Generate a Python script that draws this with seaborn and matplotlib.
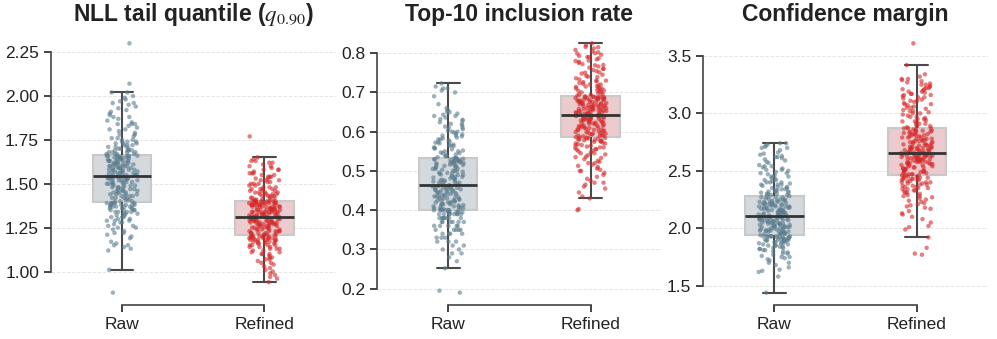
import matplotlib
matplotlib.use("Agg")
import matplotlib.pyplot as plt
import seaborn as sns
import numpy as np
import pandas as pd

groups = ["Raw", "Refined"]
titles = ["NLL tail quantile ($q_{0.90}$)", "Top-10 inclusion rate", "Confidence margin"]

nll_raw = [
    0.88, 1.01, 1.12, 1.13, 1.14, 1.15, 1.15, 1.17, 1.19, 1.20,
    1.21, 1.22, 1.23, 1.24, 1.25, 1.25, 1.26, 1.27, 1.28, 1.28,
    1.29, 1.29, 1.30, 1.30, 1.31, 1.31, 1.32, 1.32, 1.33, 1.33,
    1.34, 1.34, 1.34, 1.35, 1.35, 1.35, 1.36, 1.36, 1.36, 1.37,
    1.37, 1.37, 1.38, 1.38, 1.38, 1.38, 1.39, 1.39, 1.39, 1.39,
    1.40, 1.40, 1.41, 1.41, 1.42, 1.42, 1.42, 1.43, 1.43, 1.43,
    1.44, 1.44, 1.44, 1.45, 1.45, 1.45, 1.46, 1.46, 1.46, 1.47,
    1.47, 1.47, 1.48, 1.48, 1.48, 1.49, 1.49, 1.49, 1.50, 1.50,
    1.50, 1.50, 1.51, 1.51, 1.51, 1.52, 1.52, 1.52, 1.52, 1.53,
    1.53, 1.53, 1.53, 1.54, 1.54, 1.54, 1.54, 1.54, 1.54, 1.54,
    1.55, 1.55, 1.55, 1.55, 1.56, 1.56, 1.56, 1.56, 1.57, 1.57,
    1.57, 1.57, 1.58, 1.58, 1.58, 1.58, 1.59, 1.59, 1.59, 1.59,
    1.60, 1.60, 1.60, 1.60, 1.61, 1.61, 1.61, 1.61, 1.62, 1.62,
    1.62, 1.62, 1.63, 1.63, 1.63, 1.63, 1.64, 1.64, 1.64, 1.64,
    1.65, 1.65, 1.65, 1.65, 1.65, 1.66, 1.66, 1.66, 1.66, 1.66,
    1.67, 1.67, 1.67, 1.68, 1.68, 1.68, 1.69, 1.69, 1.69, 1.70,
    1.70, 1.71, 1.71, 1.72, 1.72, 1.73, 1.73, 1.74, 1.74, 1.75,
    1.75, 1.76, 1.77, 1.78, 1.79, 1.80, 1.81, 1.82, 1.83, 1.84,
    1.84, 1.85, 1.86, 1.87, 1.88, 1.89, 1.90, 1.91, 1.92, 1.94,
    1.95, 1.96, 1.97, 1.98, 1.99, 2.00, 2.02, 2.02, 2.07, 2.30,
    1.16, 1.22, 1.26, 1.29, 1.31, 1.33, 1.34, 1.35, 1.36, 1.37,
    1.37, 1.38, 1.38, 1.39, 1.39, 1.40, 1.41, 1.43, 1.44, 1.45,
    1.46, 1.47, 1.48, 1.49, 1.50, 1.51, 1.52, 1.53, 1.53, 1.54,
    1.55, 1.56, 1.57, 1.58, 1.59, 1.60, 1.60, 1.61, 1.62, 1.63,
    1.63, 1.64, 1.65, 1.65, 1.66, 1.67, 1.68, 1.69, 1.70, 1.71,
    1.72, 1.73, 1.74, 1.76, 1.78, 1.81, 1.84, 1.88, 1.93, 1.96,
]
nll_refined = [
    0.94, 0.96, 0.97, 0.98, 0.99, 1.00, 1.01, 1.03, 1.04, 1.05,
    1.05, 1.06, 1.07, 1.08, 1.08, 1.09, 1.10, 1.10, 1.11, 1.11,
    1.12, 1.12, 1.13, 1.13, 1.14, 1.14, 1.14, 1.15, 1.15, 1.15,
    1.16, 1.16, 1.16, 1.17, 1.17, 1.17, 1.17, 1.18, 1.18, 1.18,
    1.18, 1.19, 1.19, 1.19, 1.19, 1.19, 1.20, 1.20, 1.20, 1.20,
    1.21, 1.21, 1.21, 1.21, 1.22, 1.22, 1.22, 1.22, 1.23, 1.23,
    1.23, 1.23, 1.24, 1.24, 1.24, 1.24, 1.25, 1.25, 1.25, 1.25,
    1.26, 1.26, 1.26, 1.26, 1.27, 1.27, 1.27, 1.27, 1.28, 1.28,
    1.28, 1.28, 1.28, 1.29, 1.29, 1.29, 1.29, 1.29, 1.30, 1.30,
    1.30, 1.30, 1.30, 1.30, 1.31, 1.31, 1.31, 1.31, 1.31, 1.31,
    1.31, 1.32, 1.32, 1.32, 1.32, 1.32, 1.33, 1.33, 1.33, 1.33,
    1.33, 1.34, 1.34, 1.34, 1.34, 1.34, 1.35, 1.35, 1.35, 1.35,
    1.35, 1.36, 1.36, 1.36, 1.36, 1.36, 1.37, 1.37, 1.37, 1.37,
    1.37, 1.38, 1.38, 1.38, 1.38, 1.38, 1.39, 1.39, 1.39, 1.39,
    1.39, 1.39, 1.40, 1.40, 1.40, 1.40, 1.40, 1.40, 1.40, 1.40,
    1.41, 1.41, 1.41, 1.42, 1.42, 1.42, 1.43, 1.43, 1.43, 1.44,
    1.44, 1.44, 1.45, 1.45, 1.45, 1.46, 1.46, 1.47, 1.47, 1.47,
    1.48, 1.48, 1.49, 1.49, 1.50, 1.50, 1.51, 1.51, 1.52, 1.52,
    1.53, 1.53, 1.54, 1.54, 1.55, 1.55, 1.56, 1.56, 1.57, 1.58,
    1.58, 1.59, 1.60, 1.61, 1.62, 1.63, 1.63, 1.64, 1.65, 1.77,
    1.02, 1.07, 1.10, 1.13, 1.15, 1.16, 1.17, 1.18, 1.18, 1.19,
    1.19, 1.20, 1.20, 1.20, 1.20, 1.21, 1.22, 1.23, 1.24, 1.25,
    1.26, 1.27, 1.27, 1.28, 1.28, 1.29, 1.29, 1.30, 1.30, 1.31,
    1.32, 1.32, 1.33, 1.34, 1.34, 1.35, 1.35, 1.36, 1.37, 1.37,
    1.38, 1.38, 1.39, 1.39, 1.40, 1.41, 1.42, 1.43, 1.44, 1.45,
    1.46, 1.47, 1.48, 1.50, 1.52, 1.54, 1.56, 1.58, 1.60, 1.62,
]
top10_raw = [
    0.190, 0.195, 0.252, 0.270, 0.280, 0.290, 0.300, 0.300, 0.310, 0.310,
    0.320, 0.320, 0.330, 0.330, 0.330, 0.340, 0.340, 0.340, 0.350, 0.350,
    0.350, 0.350, 0.360, 0.360, 0.360, 0.360, 0.370, 0.370, 0.370, 0.370,
    0.370, 0.380, 0.380, 0.380, 0.380, 0.380, 0.380, 0.390, 0.390, 0.390,
    0.390, 0.390, 0.390, 0.395, 0.395, 0.395, 0.400, 0.400, 0.400, 0.400,
    0.400, 0.403, 0.405, 0.405, 0.407, 0.408, 0.410, 0.410, 0.412, 0.413,
    0.415, 0.415, 0.417, 0.418, 0.420, 0.420, 0.422, 0.423, 0.425, 0.425,
    0.427, 0.428, 0.430, 0.430, 0.432, 0.433, 0.435, 0.435, 0.437, 0.438,
    0.440, 0.440, 0.442, 0.443, 0.445, 0.445, 0.447, 0.448, 0.450, 0.450,
    0.452, 0.453, 0.455, 0.455, 0.457, 0.458, 0.460, 0.460, 0.462, 0.464,
    0.466, 0.468, 0.470, 0.470, 0.472, 0.473, 0.475, 0.476, 0.478, 0.480,
    0.481, 0.483, 0.485, 0.486, 0.488, 0.490, 0.491, 0.493, 0.495, 0.496,
    0.498, 0.500, 0.501, 0.503, 0.505, 0.506, 0.508, 0.510, 0.511, 0.513,
    0.515, 0.516, 0.517, 0.518, 0.519, 0.520, 0.521, 0.522, 0.523, 0.524,
    0.525, 0.526, 0.527, 0.528, 0.529, 0.530, 0.531, 0.532, 0.533, 0.533,
    0.535, 0.537, 0.540, 0.542, 0.545, 0.547, 0.550, 0.552, 0.555, 0.557,
    0.560, 0.563, 0.565, 0.567, 0.570, 0.573, 0.575, 0.578, 0.580, 0.583,
    0.585, 0.588, 0.590, 0.593, 0.595, 0.598, 0.600, 0.603, 0.606, 0.610,
    0.613, 0.616, 0.620, 0.624, 0.628, 0.632, 0.636, 0.640, 0.643, 0.646,
    0.650, 0.655, 0.660, 0.670, 0.690, 0.700, 0.705, 0.710, 0.715, 0.723,
    0.290, 0.320, 0.340, 0.350, 0.360, 0.370, 0.380, 0.380, 0.390, 0.390,
    0.395, 0.395, 0.400, 0.400, 0.400, 0.405, 0.410, 0.415, 0.420, 0.425,
    0.430, 0.435, 0.440, 0.445, 0.450, 0.452, 0.455, 0.458, 0.460, 0.463,
    0.470, 0.475, 0.480, 0.485, 0.490, 0.495, 0.500, 0.505, 0.510, 0.515,
    0.520, 0.522, 0.525, 0.528, 0.531, 0.538, 0.545, 0.550, 0.558, 0.565,
    0.572, 0.580, 0.590, 0.600, 0.610, 0.620, 0.630, 0.640, 0.650, 0.710,
]
top10_refined = [
    0.400, 0.403, 0.430, 0.435, 0.445, 0.455, 0.460, 0.465, 0.470, 0.475,
    0.480, 0.485, 0.490, 0.495, 0.500, 0.503, 0.506, 0.510, 0.513, 0.516,
    0.520, 0.523, 0.526, 0.530, 0.533, 0.536, 0.540, 0.542, 0.545, 0.547,
    0.550, 0.552, 0.554, 0.556, 0.558, 0.560, 0.562, 0.564, 0.566, 0.568,
    0.570, 0.572, 0.574, 0.576, 0.578, 0.579, 0.580, 0.582, 0.583, 0.585,
    0.586, 0.588, 0.589, 0.590, 0.591, 0.593, 0.594, 0.595, 0.596, 0.598,
    0.599, 0.600, 0.601, 0.603, 0.604, 0.605, 0.606, 0.608, 0.609, 0.610,
    0.611, 0.613, 0.614, 0.615, 0.616, 0.618, 0.619, 0.620, 0.621, 0.623,
    0.624, 0.625, 0.626, 0.628, 0.629, 0.630, 0.631, 0.632, 0.633, 0.634,
    0.635, 0.636, 0.637, 0.638, 0.639, 0.640, 0.641, 0.641, 0.642, 0.643,
    0.644, 0.645, 0.646, 0.647, 0.648, 0.649, 0.650, 0.651, 0.652, 0.653,
    0.654, 0.655, 0.656, 0.657, 0.658, 0.659, 0.660, 0.661, 0.662, 0.663,
    0.664, 0.665, 0.666, 0.667, 0.668, 0.669, 0.670, 0.671, 0.672, 0.673,
    0.674, 0.675, 0.676, 0.677, 0.678, 0.679, 0.680, 0.681, 0.682, 0.683,
    0.684, 0.685, 0.686, 0.686, 0.687, 0.688, 0.688, 0.689, 0.689, 0.690,
    0.692, 0.694, 0.696, 0.698, 0.700, 0.702, 0.704, 0.706, 0.708, 0.710,
    0.712, 0.714, 0.716, 0.718, 0.720, 0.722, 0.724, 0.726, 0.728, 0.730,
    0.733, 0.736, 0.739, 0.742, 0.745, 0.748, 0.751, 0.754, 0.757, 0.760,
    0.763, 0.766, 0.769, 0.772, 0.775, 0.778, 0.781, 0.784, 0.787, 0.790,
    0.793, 0.796, 0.799, 0.802, 0.805, 0.808, 0.812, 0.816, 0.820, 0.825,
    0.470, 0.500, 0.520, 0.535, 0.545, 0.555, 0.560, 0.565, 0.570, 0.575,
    0.578, 0.580, 0.582, 0.584, 0.585, 0.590, 0.595, 0.600, 0.605, 0.610,
    0.615, 0.620, 0.625, 0.628, 0.631, 0.634, 0.637, 0.639, 0.641, 0.643,
    0.646, 0.649, 0.652, 0.655, 0.658, 0.661, 0.664, 0.667, 0.670, 0.673,
    0.676, 0.679, 0.682, 0.685, 0.689, 0.695, 0.700, 0.705, 0.710, 0.715,
    0.720, 0.730, 0.740, 0.750, 0.760, 0.770, 0.780, 0.790, 0.800, 0.815,
]
margin_raw = [
    1.44, 1.58, 1.62, 1.64, 1.66, 1.68, 1.70, 1.72, 1.73, 1.74,
    1.75, 1.76, 1.77, 1.78, 1.79, 1.80, 1.80, 1.81, 1.82, 1.82,
    1.83, 1.84, 1.84, 1.85, 1.85, 1.86, 1.86, 1.87, 1.87, 1.88,
    1.88, 1.89, 1.89, 1.89, 1.90, 1.90, 1.90, 1.91, 1.91, 1.91,
    1.92, 1.92, 1.92, 1.93, 1.93, 1.93, 1.93, 1.93, 1.93, 1.93,
    1.94, 1.95, 1.95, 1.96, 1.96, 1.96, 1.97, 1.97, 1.97, 1.98,
    1.98, 1.98, 1.99, 1.99, 1.99, 2.00, 2.00, 2.00, 2.01, 2.01,
    2.01, 2.02, 2.02, 2.02, 2.03, 2.03, 2.03, 2.04, 2.04, 2.04,
    2.05, 2.05, 2.05, 2.06, 2.06, 2.06, 2.07, 2.07, 2.07, 2.08,
    2.08, 2.08, 2.08, 2.09, 2.09, 2.09, 2.09, 2.10, 2.10, 2.10,
    2.11, 2.11, 2.11, 2.12, 2.12, 2.12, 2.13, 2.13, 2.13, 2.14,
    2.14, 2.14, 2.15, 2.15, 2.15, 2.16, 2.16, 2.16, 2.17, 2.17,
    2.17, 2.18, 2.18, 2.18, 2.19, 2.19, 2.19, 2.20, 2.20, 2.20,
    2.21, 2.21, 2.21, 2.22, 2.22, 2.22, 2.23, 2.23, 2.23, 2.24,
    2.24, 2.24, 2.25, 2.25, 2.26, 2.26, 2.27, 2.27, 2.28, 2.28,
    2.29, 2.29, 2.30, 2.30, 2.31, 2.31, 2.32, 2.32, 2.33, 2.33,
    2.34, 2.35, 2.35, 2.36, 2.37, 2.38, 2.38, 2.39, 2.40, 2.40,
    2.41, 2.42, 2.43, 2.44, 2.45, 2.46, 2.47, 2.48, 2.49, 2.50,
    2.51, 2.52, 2.53, 2.54, 2.55, 2.57, 2.59, 2.60, 2.61, 2.62,
    2.63, 2.64, 2.66, 2.68, 2.70, 2.71, 2.72, 2.73, 2.74, 2.74,
    1.63, 1.70, 1.75, 1.78, 1.81, 1.83, 1.85, 1.87, 1.88, 1.89,
    1.90, 1.91, 1.92, 1.93, 1.93, 1.95, 1.96, 1.97, 1.98, 1.99,
    2.00, 2.01, 2.02, 2.03, 2.04, 2.05, 2.06, 2.07, 2.08, 2.09,
    2.11, 2.12, 2.13, 2.14, 2.15, 2.16, 2.17, 2.18, 2.19, 2.20,
    2.21, 2.22, 2.23, 2.25, 2.27, 2.30, 2.32, 2.34, 2.36, 2.38,
    2.40, 2.42, 2.45, 2.48, 2.51, 2.54, 2.58, 2.62, 2.65, 2.70,
]
margin_refined = [
    1.77, 1.78, 1.83, 1.92, 1.99, 2.01, 2.05, 2.08, 2.10, 2.13,
    2.15, 2.17, 2.18, 2.20, 2.21, 2.22, 2.24, 2.25, 2.26, 2.27,
    2.28, 2.29, 2.30, 2.31, 2.32, 2.33, 2.33, 2.34, 2.35, 2.35,
    2.36, 2.37, 2.37, 2.38, 2.39, 2.39, 2.40, 2.40, 2.41, 2.41,
    2.42, 2.42, 2.43, 2.43, 2.44, 2.44, 2.45, 2.45, 2.46, 2.46,
    2.47, 2.47, 2.48, 2.48, 2.49, 2.49, 2.50, 2.50, 2.51, 2.51,
    2.52, 2.52, 2.53, 2.53, 2.54, 2.54, 2.55, 2.55, 2.56, 2.56,
    2.57, 2.57, 2.57, 2.58, 2.58, 2.58, 2.59, 2.59, 2.59, 2.60,
    2.60, 2.60, 2.61, 2.61, 2.61, 2.62, 2.62, 2.62, 2.63, 2.63,
    2.63, 2.63, 2.64, 2.64, 2.64, 2.64, 2.65, 2.65, 2.65, 2.65,
    2.66, 2.66, 2.66, 2.67, 2.67, 2.67, 2.68, 2.68, 2.68, 2.69,
    2.69, 2.69, 2.70, 2.70, 2.70, 2.71, 2.71, 2.71, 2.72, 2.72,
    2.73, 2.73, 2.74, 2.74, 2.75, 2.75, 2.76, 2.76, 2.77, 2.77,
    2.78, 2.78, 2.79, 2.79, 2.80, 2.80, 2.81, 2.81, 2.82, 2.82,
    2.83, 2.83, 2.84, 2.84, 2.85, 2.85, 2.86, 2.86, 2.87, 2.87,
    2.88, 2.89, 2.90, 2.91, 2.92, 2.93, 2.94, 2.95, 2.96, 2.97,
    2.98, 2.99, 3.00, 3.01, 3.02, 3.03, 3.04, 3.05, 3.06, 3.07,
    3.08, 3.09, 3.10, 3.11, 3.12, 3.14, 3.15, 3.16, 3.17, 3.18,
    3.19, 3.20, 3.21, 3.22, 3.23, 3.24, 3.26, 3.28, 3.30, 3.32,
    3.13, 3.16, 3.19, 3.22, 3.25, 3.27, 3.29, 3.34, 3.42, 3.61,
    2.02, 2.12, 2.19, 2.23, 2.28, 2.31, 2.34, 2.36, 2.38, 2.40,
    2.42, 2.43, 2.44, 2.45, 2.46, 2.47, 2.49, 2.50, 2.52, 2.53,
    2.55, 2.56, 2.57, 2.58, 2.59, 2.60, 2.61, 2.62, 2.63, 2.64,
    2.66, 2.67, 2.69, 2.70, 2.72, 2.73, 2.75, 2.76, 2.78, 2.79,
    2.81, 2.82, 2.84, 2.85, 2.87, 2.89, 2.91, 2.93, 2.95, 2.97,
    3.00, 3.02, 3.05, 3.08, 3.11, 3.14, 3.17, 3.21, 3.25, 3.30,
]

yticks = [
    [1.00, 1.25, 1.50, 1.75, 2.00, 2.25],
    [0.2, 0.3, 0.4, 0.5, 0.6, 0.7, 0.8],
    [1.5, 2.0, 2.5, 3.0, 3.5],
]
tickfmt = ["{:.2f}", "{:.1f}", "{:.1f}"]

panels = [(nll_raw, nll_refined), (top10_raw, top10_refined), (margin_raw, margin_refined)]

point_colors = {"Raw": "#5b7d8e", "Refined": "#d62728"}
box_colors = {"Raw": "#d3d9de", "Refined": "#f0c6c8"}

sns.set_theme(style="ticks")
plt.rcParams["font.family"] = ["Liberation Sans", "DejaVu Sans"]
plt.rcParams["mathtext.fontset"] = "stix"

fig, axes = plt.subplots(1, 3, figsize=(9.97, 3.39), dpi=100)
fig.subplots_adjust(left=0.051, right=0.991, bottom=0.10, top=0.909, wspace=0.145)

for i, ax in enumerate(axes):
    raw, ref = panels[i]
    df = pd.DataFrame({
        "group": ["Raw"] * len(raw) + ["Refined"] * len(ref),
        "value": raw + ref,
    })
    sns.boxplot(data=df, x="group", y="value", hue="group", order=groups,
                palette=box_colors, width=0.41, showfliers=False, legend=False,
                linewidth=1.5, linecolor="#444444", ax=ax, capwidths=0.16,
                boxprops=dict(edgecolor="#c9c9c9", zorder=1),
                whiskerprops=dict(color="#4a4a4a", zorder=1),
                capprops=dict(color="#4a4a4a", zorder=1),
                medianprops=dict(color="#333333", linewidth=2, zorder=5))
    sns.stripplot(data=df, x="group", y="value", hue="group", order=groups,
                  palette=point_colors, jitter=0.11, size=3.2, alpha=0.6,
                  linewidth=0, legend=False, ax=ax, zorder=3)
    ax.set_title(titles[i], fontsize=16.5, fontweight="bold", color="#222222", pad=7)
    ax.set_xlabel("")
    ax.set_ylabel("")
    ax.set_yticks(yticks[i])
    ax.set_yticklabels([tickfmt[i].format(t) for t in yticks[i]])
    ax.tick_params(labelsize=12.5, colors="#222222", length=5, width=1.2)
    ax.yaxis.grid(True, linestyle="--", linewidth=0.7, color="#e6e6e6")
    ax.set_axisbelow(True)
    sns.despine(ax=ax, trim=True)
    for s in ["left", "bottom"]:
        ax.spines[s].set_color("#444444")
        ax.spines[s].set_linewidth(1.2)

fig.savefig("out.png", dpi=100)
